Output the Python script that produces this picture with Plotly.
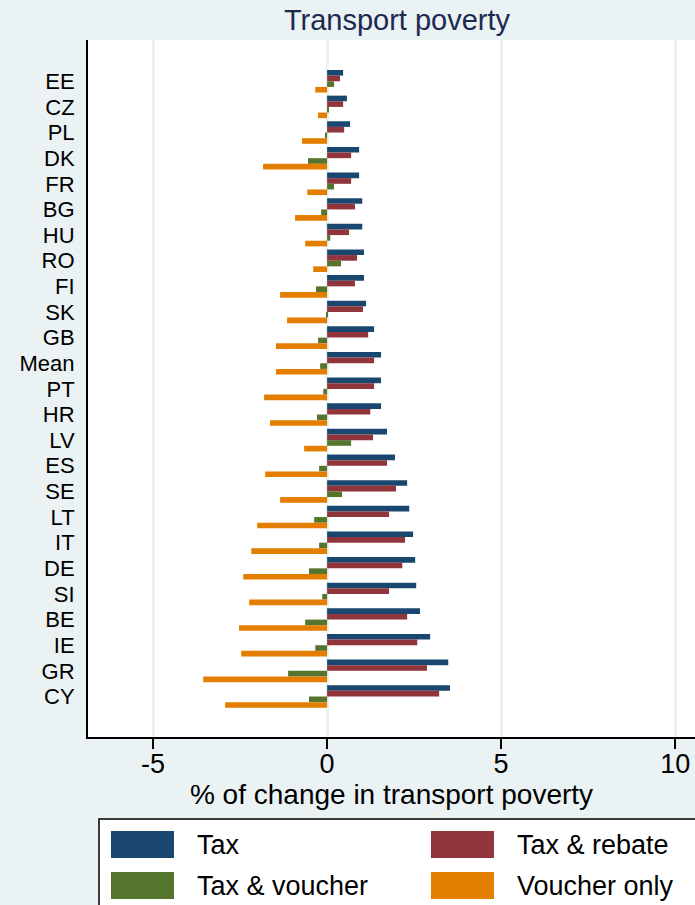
import plotly.graph_objects as go

countries = ["EE", "CZ", "PL", "DK", "FR", "BG", "HU", "RO", "FI", "SK", "GB", "Mean",
             "PT", "HR", "LV", "ES", "SE", "LT", "IT", "DE", "SI", "BE", "IE", "GR", "CY"]
tax = [0.46, 0.57, 0.66, 0.92, 0.92, 1.01, 1.01, 1.06, 1.06, 1.12, 1.35, 1.55,
       1.55, 1.55, 1.72, 1.95, 2.30, 2.36, 2.47, 2.53, 2.56, 2.67, 2.96, 3.48, 3.53]
tax_rebate = [0.37, 0.46, 0.49, 0.69, 0.69, 0.80, 0.63, 0.86, 0.80, 1.03, 1.18, 1.35,
              1.35, 1.24, 1.32, 1.72, 1.98, 1.78, 2.24, 2.16, 1.78, 2.30, 2.59, 2.87, 3.22]
tax_voucher = [0.20, 0.03, -0.06, -0.55, 0.20, -0.17, 0.09, 0.40, -0.32, -0.03, -0.26, -0.20,
               -0.11, -0.29, 0.69, -0.23, 0.43, -0.37, -0.23, -0.52, -0.14, -0.63, -0.34, -1.12, -0.52]
voucher_only = [-0.34, -0.26, -0.72, -1.84, -0.57, -0.92, -0.63, -0.40, -1.35, -1.15, -1.47, -1.47,
                -1.81, -1.64, -0.66, -1.78, -1.35, -2.01, -2.18, -2.41, -2.24, -2.53, -2.47, -3.56, -2.93]

series_names = ["Tax", "Tax & rebate", "Tax & voucher", "Voucher only"]
series_values = [tax, tax_rebate, tax_voucher, voucher_only]
colors = ["#1a476f", "#90353b", "#55752f", "#e37e00"]
x_ticks = [-5, 0, 5, 10]

BG = "#eaf2f3"
FONT = "Liberation Sans, Arial, sans-serif"

fig = go.Figure()
for name, vals, col in zip(series_names, series_values, colors):
    fig.add_trace(go.Bar(y=countries, x=vals, name=name, orientation="h",
                         marker=dict(color=col, line=dict(width=0)), showlegend=False))

W, H = 695, 905
ml, mr, mt, mb = 88, 0, 40, 168
pw, ph = W - ml - mr, H - mt - mb

fig.update_layout(
    width=W, height=H,
    margin=dict(l=ml, r=mr, t=mt, b=mb),
    paper_bgcolor=BG, plot_bgcolor="white",
    barmode="group", bargap=0.12, bargroupgap=0,
    font=dict(family=FONT, color="black"),
    title=dict(text="Transport poverty", x=397 / W, xanchor="center",
               y=1 - 20 / H, yanchor="middle",
               font=dict(size=29, color="#1a2a50", family=FONT)),
    xaxis=dict(range=[-6.87, 10.57], tickvals=x_ticks, ticktext=[str(v) for v in x_ticks],
               showgrid=True, gridcolor=BG, gridwidth=2.5,
               zeroline=True, zerolinecolor=BG, zerolinewidth=2.5,
               showline=True, linecolor="black", linewidth=1.5,
               ticks="outside", ticklen=10, tickcolor="black", tickwidth=1.5,
               ticklabelstandoff=-8,
               tickfont=dict(size=27, family=FONT),
               title=dict(text="% of change in transport poverty",
                          font=dict(size=28, family=FONT), standoff=0)),
    yaxis=dict(range=[25.58, -1.61], type="category",
               tickmode="array", tickvals=countries, ticktext=countries,
               showgrid=False, zeroline=False,
               showline=True, linecolor="black", linewidth=2,
               ticks="", ticklabelstandoff=7,
               tickfont=dict(size=22, family=FONT)),
)

def px_x(x):
    return (x - ml) / pw

def px_y(y):
    return (H - mb - y) / ph

shapes = [dict(type="rect", xref="paper", yref="paper",
               x0=px_x(99), x1=px_x(720), y0=px_y(930), y1=px_y(819),
               line=dict(color="black", width=1.5), fillcolor="white", layer="above")]
annotations = []
key_pos = [(111, 831), (431, 831), (111, 872), (431, 872)]
for (kx, ky), name, col in zip(key_pos, series_names, colors):
    shapes.append(dict(type="rect", xref="paper", yref="paper",
                       x0=px_x(kx), x1=px_x(kx + 63), y0=px_y(ky + 27), y1=px_y(ky),
                       line=dict(width=0), fillcolor=col, layer="above"))
    annotations.append(dict(xref="paper", yref="paper", x=px_x(kx + 84), y=px_y(ky + 14),
                            text=name, showarrow=False, xanchor="left", yanchor="middle",
                            font=dict(size=27, family=FONT, color="black")))
fig.update_layout(shapes=shapes, annotations=annotations)

fig.write_html("out.html", config={"displayModeBar": False},
               post_script="document.body.style.margin='0';document.body.style.padding='0';"
                           "document.body.style.overflow='hidden';")
